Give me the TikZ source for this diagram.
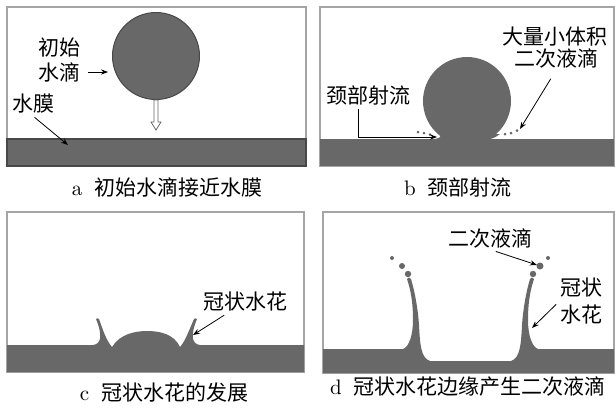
\documentclass[tikz,border=0pt]{standalone}
\usepackage{fontspec}
\newfontfamily\cjk{Noto Sans CJK SC}
\usetikzlibrary{arrows.meta}
\definecolor{water}{RGB}{104,104,104}
\definecolor{rim}{RGB}{72,72,72}
\definecolor{framegray}{RGB}{165,165,165}
\tikzset{%
  panel/.style = {draw=framegray,line width=0.6pt},
  liquid/.style = {fill=water},
  drop/.style = {circle,fill=water,inner sep=0pt,
        minimum size=44pt},
  lbl/.style = {font=\cjk\fontsize{10.5}{12}\selectfont,inner sep=1pt},
  captxt/.style = {font=\fontsize{10.5}{12}\selectfont,inner sep=1pt},
  ptr/.style = {-{Stealth[length=3.5pt,width=2.6pt]},line width=0.4pt}
}

\begin{document}
\begin{tikzpicture}[x=0.5pt,y=-0.5pt]
\fill[white] (0,0) rectangle (615,409);
\useasboundingbox (0,0) rectangle (615,409);

% a: drop above the film
\draw[panel] (7,7) rectangle (306,166);
\draw[liquid,draw=rim,line width=0.6pt] (7,139) rectangle (306,166);
\node[drop,draw=rim,line width=0.5pt,minimum size=43.5pt] (dropA) at (156,56) {};
\draw[draw=water,fill=white,line width=0.4pt]
    (154,100) -- (158,100) -- (158,122) -- (161,122) -- (156,130)
    -- (151,122) -- (154,122) -- cycle;
\node[lbl] (initA) at (59,48) {初始};
\node[lbl] (dropLblA) at (59,72) {水滴};
\draw[ptr,shorten <=3pt,shorten >=2pt] (dropLblA.east) -- (dropLblA.east -| dropA.west);
\node[lbl] (filmA) at (33,104) {水膜};
\coordinate (filmPtA) at (68,145);
\draw[ptr,shorten <=1pt] (filmA.south) -- (filmPtA);
\node[captxt] (capA) at (167,187) {a\hspace{6pt}{\cjk 初始水滴接近水膜}};

% b: neck jet
\draw[panel] (320,7) rectangle (614,166);
\fill[liquid] (320,139) rectangle (614,166);
\node[drop] (dropB) at (467,101) {};
\fill[liquid] (434,139) .. controls (439,138.5) and (441,137) .. (442,134)
    -- (452,139) -- cycle;
\fill[liquid] (500,134) .. controls (497,136) and (495,138) .. (490,139)
    -- (482,139) -- (492,134) -- cycle;
\fill[water] (418,132) circle [radius=1.5];
\fill[water] (424,133) circle [radius=1.5];
\fill[water] (430,134.5) circle [radius=1.5];
\fill[water] (505,134) circle [radius=1.5];
\fill[water] (511,133) circle [radius=1.5];
\fill[water] (517,130.5) circle [radius=1.5];
\node[lbl] (neckB) at (368,95) {颈部射流};
\coordinate (neckPtB) at (437,137);
\draw[ptr,shorten <=1pt] ([xshift=-5pt]neckB.south) |- (neckPtB);
\node[lbl] (manyB) at (555,37) {大量小体积};
\node[lbl] (secB) at (556,58) {二次液滴};
\coordinate (secPtB) at (520,129);
\draw[ptr,shorten <=5pt] (secB.south) -- (secPtB);
\node[captxt] (capB) at (458,187) {b\hspace{6pt}{\cjk 颈部射流}};

% c: crown starts to rise
\draw[panel] (7,212) rectangle (304,372);
\fill[liquid] (7,345) -- (93,345)
    .. controls (101,344) and (103,336) .. (96,319)
    .. controls (97,318) and (98,318) .. (99,319)
    .. controls (103,330) and (106,340) .. (112,347)
    .. controls (120,334) and (135,331) .. (147,331)
    .. controls (160,331) and (174,334) .. (180,347)
    .. controls (186,340) and (189,330) .. (194,319)
    .. controls (195,318) and (196,318) .. (197,319)
    .. controls (190,336) and (192,344) .. (200,345)
    -- (304,345) -- (304,372) -- (7,372) -- cycle;
\node[lbl] (crownC) at (245,302) {冠状水花};
\coordinate (crownPtC) at (193,335);
\draw[ptr,shorten <=1pt] (crownC) -- (crownPtC);
\node[captxt] (capC) at (164,392) {c\hspace{6pt}{\cjk 冠状水花的发展}};

% d: crown rim sheds secondary drops
\draw[panel] (323,212) rectangle (614,373);
\fill[liquid] (323,349) -- (403,349)
    .. controls (409,347) and (413,335) .. (413,320)
    .. controls (413,300) and (410,288) .. (407,279)
    .. controls (408,277) and (410,277) .. (411,279)
    .. controls (415,292) and (418,310) .. (419,325)
    .. controls (420,345) and (421,358) .. (430,361)
    -- (511,361)
    .. controls (520,358) and (521,345) .. (522,325)
    .. controls (523,310) and (526,292) .. (530,279)
    .. controls (531,277) and (533,277) .. (534,279)
    .. controls (531,288) and (528,300) .. (528,320)
    .. controls (528,335) and (532,347) .. (538,349)
    -- (614,349) -- (614,373) -- (323,373) -- cycle;
\fill[water] (392,258) circle [radius=2];
\fill[water] (402,266) circle [radius=3];
\fill[water] (408,274) circle [radius=3.2];
\fill[water] (533,274) circle [radius=3.2];
\fill[water] (540,266) circle [radius=3.5];
\fill[water] (548,258) circle [radius=2];
\node[lbl] (secD) at (490,238) {二次液滴};
\coordinate (secPtD) at (537,265);
\draw[ptr,shorten <=2pt] ([xshift=1pt]secD.south) -- (secPtD);
\node[lbl] (crownD) at (581,287) {冠状};
\node[lbl] (sprayD) at (581,315) {水花};
\coordinate (crownPtD) at (532,328);
\draw[ptr,shorten <=1pt] (sprayD.north west) -- (crownPtD);
\node[captxt] (capD) at (468,387) {d\hspace{6pt}{\cjk 冠状水花边缘产生二次液滴}};
\end{tikzpicture}
\end{document}
